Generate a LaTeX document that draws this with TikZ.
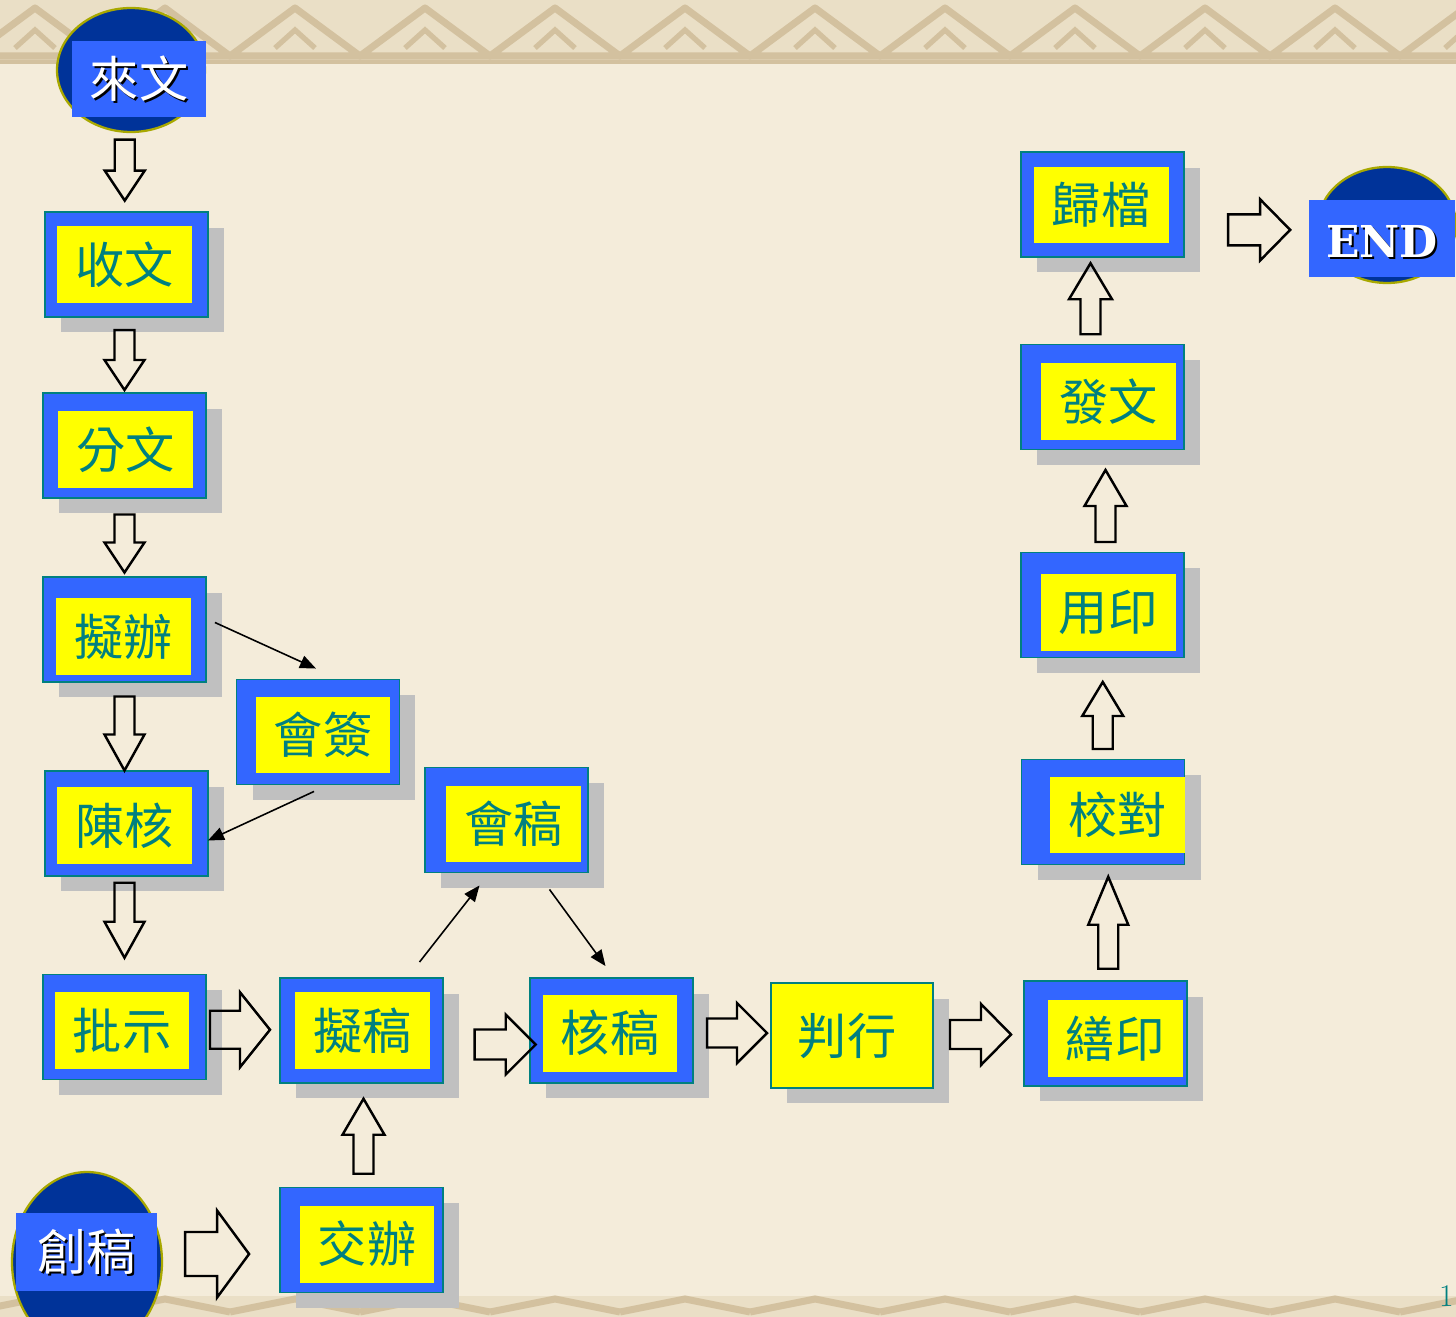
\documentclass[tikz,border=0pt]{standalone}
\usepackage{fontspec}
\usetikzlibrary{positioning,arrows.meta,calc,shapes.geometric}
\newfontfamily\cjk{Noto Sans CJK TC}
\newfontfamily\endfont{DejaVu Serif}
\definecolor{bgpaper}{HTML}{F4ECDA}
\definecolor{band}{HTML}{EADFC6}
\definecolor{bandline}{HTML}{D3C19F}
\definecolor{boxblue}{HTML}{3366FF}
\definecolor{darkblue}{HTML}{003399}
\definecolor{rim}{HTML}{A8A800}
\definecolor{tealline}{HTML}{008080}
\definecolor{boxyellow}{HTML}{FFFF00}
\definecolor{shade}{HTML}{C0C0C0}
\tikzset{
  outerbox/.style={rectangle, draw=tealline, line width=1.1pt, fill=boxblue,
              minimum width=3.26cm, minimum height=2.1cm, inner sep=0pt,
              preaction={fill=shade, transform canvas={shift={(0.32cm,-0.31cm)}}}},
  innerbox/.style={rectangle, fill=boxyellow, minimum width=2.7cm, minimum height=1.54cm,
              inner sep=0pt, text=tealline, font=\cjk\fontsize{28}{30}\selectfont},
  plainbox/.style={rectangle, draw=tealline, line width=1.1pt, fill=boxyellow,
              minimum width=3.24cm, minimum height=2.1cm, inner sep=0pt,
              text=tealline, font=\cjk\fontsize{28}{30}\selectfont,
              preaction={fill=shade, transform canvas={shift={(0.32cm,-0.31cm)}}}},
  markdisc/.style={ellipse, draw=rim, line width=1.3pt, fill=darkblue, inner sep=0pt},
  markbox/.style={rectangle, fill=boxblue, minimum height=1.54cm, inner sep=0pt},
  marktxt/.style={text=white, font=\cjk\fontsize{28}{30}\selectfont, inner sep=0pt},
  link/.style={-{Triangle[length=3.2mm,width=2.6mm]}, line width=0.9pt},
  pics/fatarrow/.style n args={4}{code={
    \draw[line width=1.4pt, line join=miter]
      ({-#1/2},{-#3/2}) -- ({#1/2-#4},{-#3/2}) -- ({#1/2-#4},{-#2/2}) -- ({#1/2},0)
      -- ({#1/2-#4},{#2/2}) -- ({#1/2-#4},{#3/2}) -- ({-#1/2},{#3/2}) -- cycle;
  }}
}
\begin{document}
\begin{tikzpicture}[x=0.02cm, y=-0.02cm]
\useasboundingbox (0,0) rectangle (1456,1317);
\fill[bgpaper] (0,0) rectangle (1456,1317);
% border bands
\fill[band] (0,0) rectangle (1456,64);
\fill[band] (0,1296) rectangle (1456,1317);
\foreach \i in {0,...,11}{
  \draw[bandline, line width=4pt, line join=round] ({\i*130-30},56) -- ({\i*130+35},8) -- ({\i*130+100},56) -- cycle;
  \draw[bandline, line width=3pt] ({\i*130+15},48) -- ({\i*130+35},30) -- ({\i*130+55},48);
  \draw[bandline, line width=4pt] ({\i*130-30},1312) -- ({\i*130+35},1299) -- ({\i*130+100},1312);
}
\draw[bandline, line width=2pt] (0,62) -- (1456,62);

% start and end marks
\node[markdisc, minimum width=2.96cm, minimum height=2.48cm] (laiwen-bg) at (131,70) {};
\node[markbox, minimum width=2.68cm] (laiwen) at (139,79) {};
\node[marktxt, text=black] at ([shift={(2,2)}]laiwen) {來文};
\node[marktxt] at (laiwen) {來文};

\node[markdisc, minimum width=2.76cm, minimum height=2.32cm] (endmark-bg) at (1387,225) {};
\node[markbox, minimum width=2.92cm] (endmark) at (1382,238.5) {};
\node[marktxt, text=black, font=\endfont\bfseries\fontsize{25}{27}\selectfont] at ([shift={(2,4.5)}]endmark) {END};
\node[marktxt, font=\endfont\bfseries\fontsize{25}{27}\selectfont] at ([shift={(0,2.5)}]endmark) {END};

\node[markdisc, minimum width=3.0cm, minimum height=3.6cm] (chuanggao-bg) at (87,1262) {};
\node[markbox, minimum width=2.82cm, minimum height=1.56cm] (chuanggao) at (86.5,1252) {};
\node[marktxt, text=black] at ([shift={(2,2)}]chuanggao) {創稿};
\node[marktxt] at (chuanggao) {創稿};

% left column
\node[outerbox] (shouwen) at (126.5,264.5) {};
\node[innerbox] (shouwen-in) at ([shift={(-2,0)}]shouwen) {收文};
\node[outerbox] (fenwen) at (124.5,445.5) {};
\node[innerbox] (fenwen-in) at ([shift={(1,4)}]fenwen) {分文};
\node[outerbox] (nibian) at (124.5,629.5) {};
\node[innerbox] (nibian-in) at ([shift={(-1,7)}]nibian) {擬辦};
\node[outerbox] (chenhe) at (126.5,823.5) {};
\node[innerbox] (chenhe-in) at ([shift={(-2,2)}]chenhe) {陳核};
\node[outerbox] (pishi) at (124.5,1027) {};
\node[innerbox] (pishi-in) at ([shift={(-2.5,3.5)}]pishi) {批示};

% middle
\node[outerbox] (huiqian) at (318,732) {};
\node[innerbox] (huiqian-in) at ([shift={(5,3)}]huiqian) {會簽};
\node[outerbox] (huigao) at (506.5,820) {};
\node[innerbox] (huigao-in) at ([shift={(7,4)}]huigao) {會稿};
\node[outerbox] (nigao) at (361.5,1030.5) {};
\node[innerbox] (nigao-in) at ([shift={(1,0)}]nigao) {擬稿};
\node[outerbox] (jiaoban) at (361.5,1240) {};
\node[innerbox] (jiaoban-in) at ([shift={(5.5,4)}]jiaoban) {交辦};
\node[outerbox] (hegao) at (611.5,1030.5) {};
\node[innerbox] (hegao-in) at ([shift={(-1.5,2.5)}]hegao) {核稿};
\node[plainbox] (panxing) at (852,1035.5) {\hspace*{-0.2cm}\raisebox{-0.1cm}{判行}};

% right column
\node[outerbox] (shanyin) at (1105.5,1033.5) {};
\node[innerbox] (shanyin-in) at ([shift={(9.5,5)}]shanyin) {繕印};
\node[outerbox] (jiaodui) at (1103,812) {};
\node[innerbox] (jiaodui-in) at ([shift={(14.5,3)}]jiaodui) {校對};
\node[outerbox] (yongyin) at (1102.5,605) {};
\node[innerbox] (yongyin-in) at ([shift={(5.5,7.5)}]yongyin) {用印};
\node[outerbox] (fawen) at (1102.5,397) {};
\node[innerbox] (fawen-in) at ([shift={(6,4.5)}]fawen) {發文};
\node[outerbox] (guidang) at (1102.5,204.5) {};
\node[innerbox] (guidang-in) at ([shift={(-1.5,0.5)}]guidang) {歸檔};

\node[text=tealline, font=\fontsize{18}{18}\selectfont, anchor=east, inner sep=0pt] (pagenum) at (1454,1296) {1};

% block arrows
\pic[rotate=-90] at ($(laiwen-bg.south)!.5!(shouwen.north)+(-4,-2)$) {fatarrow={61}{40}{20}{30}};
\pic[rotate=-90] at ($(shouwen.south)!.5!(fenwen.north)+(-1,5)$) {fatarrow={60}{40}{20}{30}};
\pic[rotate=-90] at ($(fenwen.south)!.5!(nibian.north)+(0,6)$) {fatarrow={58}{40}{20}{30}};
\pic[rotate=-90] at ($(nibian.south)!.5!(chenhe.north)+(-1,7)$) {fatarrow={74}{40}{20}{36}};
\pic[rotate=-90] at ($(chenhe.south)!.5!(pishi.north)+(-1,-5)$) {fatarrow={75}{40}{20}{36}};
\pic at ($(pishi.east)!.5!(nigao.west)+(-3,1)$) {fatarrow={60}{75}{38}{30}};
\pic at ($(nigao.east)!.72!(hegao.west)+(0,14)$) {fatarrow={61}{60}{30}{30}};
\pic at ($(hegao.east)!.5!(panxing.west)+(5,0)$) {fatarrow={60}{60}{29}{30}};
\pic at ($(panxing.east)!.5!(shanyin.west)+(2,0)$) {fatarrow={61}{61}{29}{30}};
\pic at ($(chuanggao-bg.east)!.5!(jiaoban.west)+(-4,3)$) {fatarrow={64}{87}{44}{32}};
\pic at ($(guidang.east)!.6!(endmark.west)+(0,5)$) {fatarrow={62}{61}{31}{30}};
\pic[rotate=90] at ($(jiaoban.north)!.5!(nigao.south)+(2,1)$) {fatarrow={75}{42}{20}{36}};
\pic[rotate=90] at ($(shanyin.north)!.5!(jiaodui.south)+(4,0)$) {fatarrow={92}{40}{20}{48}};
\pic[rotate=90] at ($(jiaodui.north)!.5!(yongyin.south)+(0,7)$) {fatarrow={67}{41}{20}{34}};
\pic[rotate=90] at ($(yongyin.north)!.5!(fawen.south)+(3,5)$) {fatarrow={72}{42}{20}{36}};
\pic[rotate=90] at ($(fawen.north)!.5!(guidang.south)+(-12,-2)$) {fatarrow={71}{43}{20}{36}};

% thin links
\draw[link] ([shift={(8,-7)}]nibian.east) -- ([shift={(-2,-10)}]huiqian.north);
\draw[link] ([shift={(-4,6)}]huiqian.south) -- ([shift={(-1,17)}]chenhe.east);
\draw[link] ([shift={(58,-15)}]nigao.north) -- ([shift={(-27,12)}]huigao.south);
\draw[link] ([shift={(43,16)}]huigao.south) -- ([shift={(-6,-11)}]hegao.north);
\end{tikzpicture}
\end{document}
